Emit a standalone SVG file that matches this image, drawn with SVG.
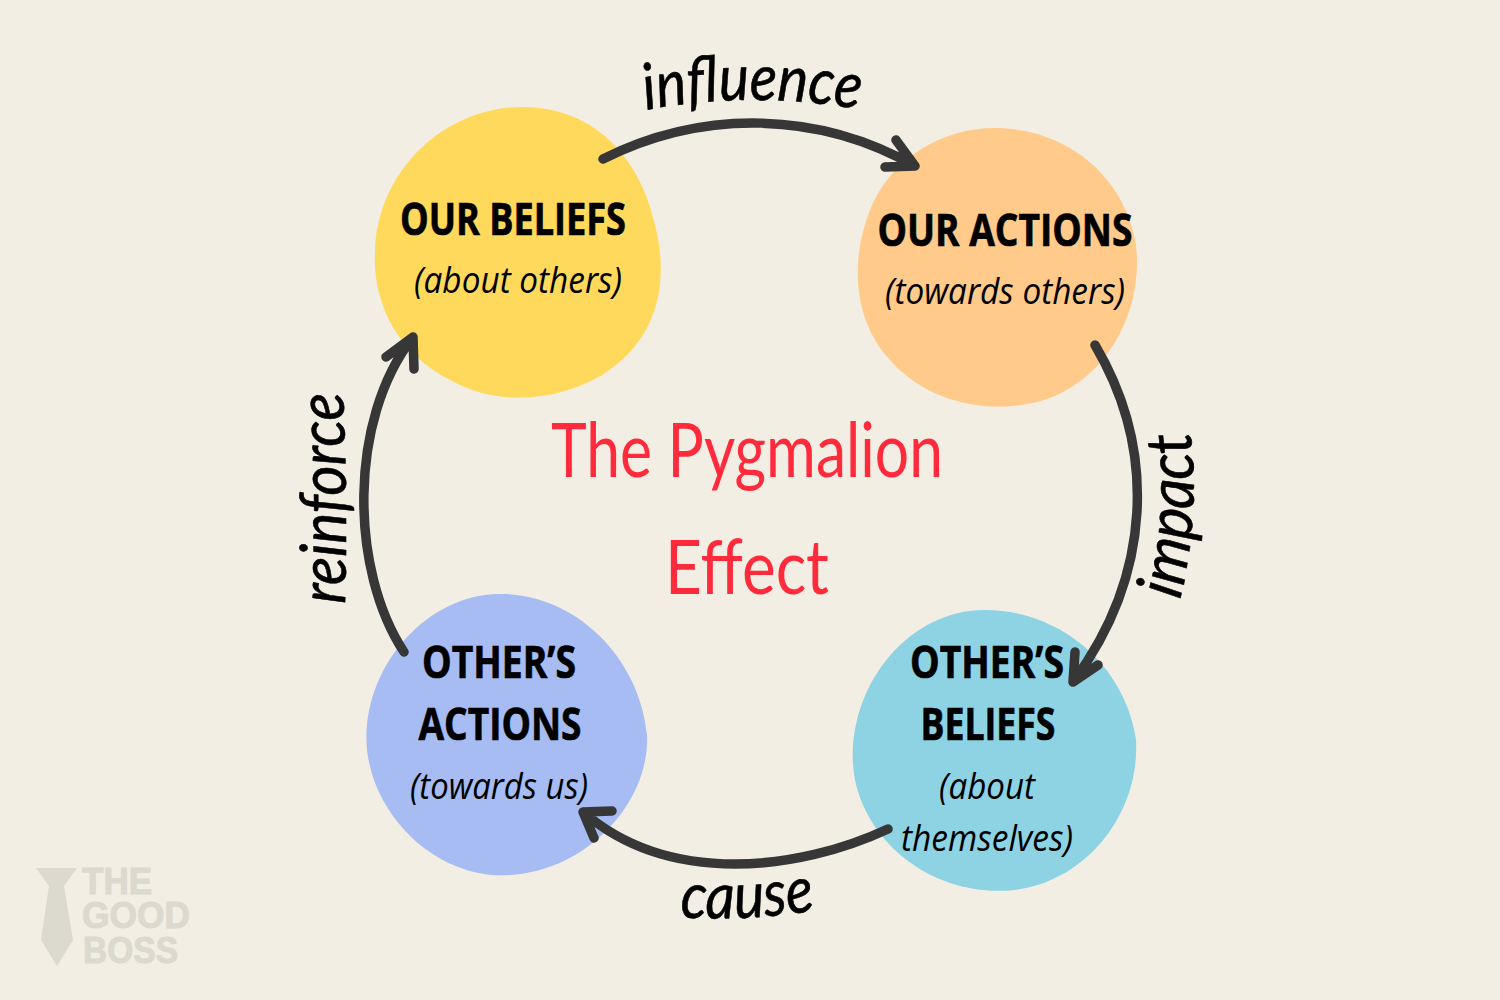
<svg xmlns="http://www.w3.org/2000/svg" width="1500" height="1000" viewBox="0 0 1500 1000">
<style>
.h{font-family:"Open Sans","Noto Sans",sans-serif;font-weight:700;font-size:45px;text-anchor:middle;fill:#000;stroke:#000;stroke-width:.7}
.s{font-family:"Open Sans","Noto Sans",sans-serif;font-style:italic;font-size:36px;text-anchor:middle;fill:#000}
.v{font-family:"Lato","Open Sans",sans-serif;font-style:italic;font-weight:400;font-size:64px;fill:#000;stroke:#000;stroke-width:.6}
.t{font-family:"Lato",sans-serif;font-weight:400;font-size:76px;text-anchor:middle;fill:#ff2b3c}
.c{fill:none;stroke:#373737;stroke-width:9.5;stroke-linecap:round;stroke-linejoin:round}
.w{font-family:"Liberation Sans",sans-serif;font-weight:700;font-size:36px;fill:#dcd9cf;stroke:#dcd9cf;stroke-width:1}
</style>
<defs>
<path id="p-influence" d="M646 110Q752 90 862 110"/>
<path id="p-impact" d="M1180 600Q1201 510 1190 430"/>
<path id="p-cause" d="M680 917Q745 922 818 910"/>
<path id="p-reinforce" d="M345 604Q348 500 343 393"/>
</defs>
<rect width="1500" height="1000" fill="#f2eee3"/>
<g id="node-beliefs"><path d="M522 107C600 107 642 165 655 225C670 285 657 340 602 375C560 400 500 408 450 380C395 352 372 300 375 250C378 170 445 107 522 107Z" fill="#ffd95c"/>
<text class="h" x="513" y="235" textLength="226" lengthAdjust="spacingAndGlyphs">OUR BELIEFS</text><text class="s" x="518" y="293" textLength="208" lengthAdjust="spacingAndGlyphs">(about others)</text></g>
<g id="node-actions"><path d="M995 128C1065 128 1125 175 1136 245C1143 310 1110 372 1055 396C1000 418 930 406 890 360C853 320 850 260 870 210C890 160 940 128 995 128Z" fill="#ffca8a"/>
<text class="h" x="1005" y="246" textLength="255" lengthAdjust="spacingAndGlyphs">OUR ACTIONS</text><text class="s" x="1005" y="304" textLength="240" lengthAdjust="spacingAndGlyphs">(towards others)</text></g>
<g id="node-others-beliefs"><path d="M985 610C1060 610 1125 665 1136 740C1140 810 1090 880 1015 890C940 898 870 850 855 780C840 700 900 610 985 610Z" fill="#8dd3e4"/>
<text class="h" x="987" y="678" textLength="154" lengthAdjust="spacingAndGlyphs">OTHER’S</text><text class="h" x="988" y="740" textLength="135" lengthAdjust="spacingAndGlyphs">BELIEFS</text><text class="s" x="987" y="799" textLength="96" lengthAdjust="spacingAndGlyphs">(about</text><text class="s" x="987" y="851" textLength="172" lengthAdjust="spacingAndGlyphs">themselves)</text></g>
<g id="node-others-actions"><path d="M500 594C578 594 640 660 647 735C650 800 590 870 510 875C440 880 375 820 367 750C360 670 425 594 500 594Z" fill="#a6bcf2"/>
<text class="h" x="499" y="678" textLength="154" lengthAdjust="spacingAndGlyphs">OTHER’S</text><text class="h" x="500" y="740" textLength="163" lengthAdjust="spacingAndGlyphs">ACTIONS</text><text class="s" x="499" y="799" textLength="178" lengthAdjust="spacingAndGlyphs">(towards us)</text></g>
<g id="connectors">
<path class="c" d="M603 159C705 108 820 112 915 166M896 140L915 166L885 167"/>
<path class="c" d="M1095 345C1157 450 1152 575 1073 682M1075 652L1073 682L1098 665"/>
<path class="c" d="M888 829C800 870 670 887 583 812M612 811L583 812L594 838"/>
<path class="c" d="M404 652C350 570 348 420 413 337M386 357L413 337L414 369"/>
</g>
<g id="labels">
<text class="v" textLength="214" lengthAdjust="spacingAndGlyphs"><textPath href="#p-influence">influence</textPath></text>
<text class="v" textLength="170" lengthAdjust="spacingAndGlyphs"><textPath href="#p-impact">impact</textPath></text>
<text class="v" textLength="136" lengthAdjust="spacingAndGlyphs"><textPath href="#p-cause">cause</textPath></text>
<text class="v" textLength="212" lengthAdjust="spacingAndGlyphs"><textPath href="#p-reinforce">reinforce</textPath></text>
</g>
<g id="title"><text class="t" x="747" y="477" textLength="392" lengthAdjust="spacingAndGlyphs">The Pygmalion</text><text class="t" x="747" y="594" textLength="164" lengthAdjust="spacingAndGlyphs">Effect</text></g>
<g id="watermark"><path d="M36 868H77L64 886L73 940L57 966L41 940L49 886Z" fill="#dcd9cf"/><text class="w" x="82" y="894" textLength="70" lengthAdjust="spacingAndGlyphs">THE</text><text class="w" x="82" y="928" textLength="108" lengthAdjust="spacingAndGlyphs">GOOD</text><text class="w" x="83" y="963" textLength="95" lengthAdjust="spacingAndGlyphs">BOSS</text></g>
</svg>
